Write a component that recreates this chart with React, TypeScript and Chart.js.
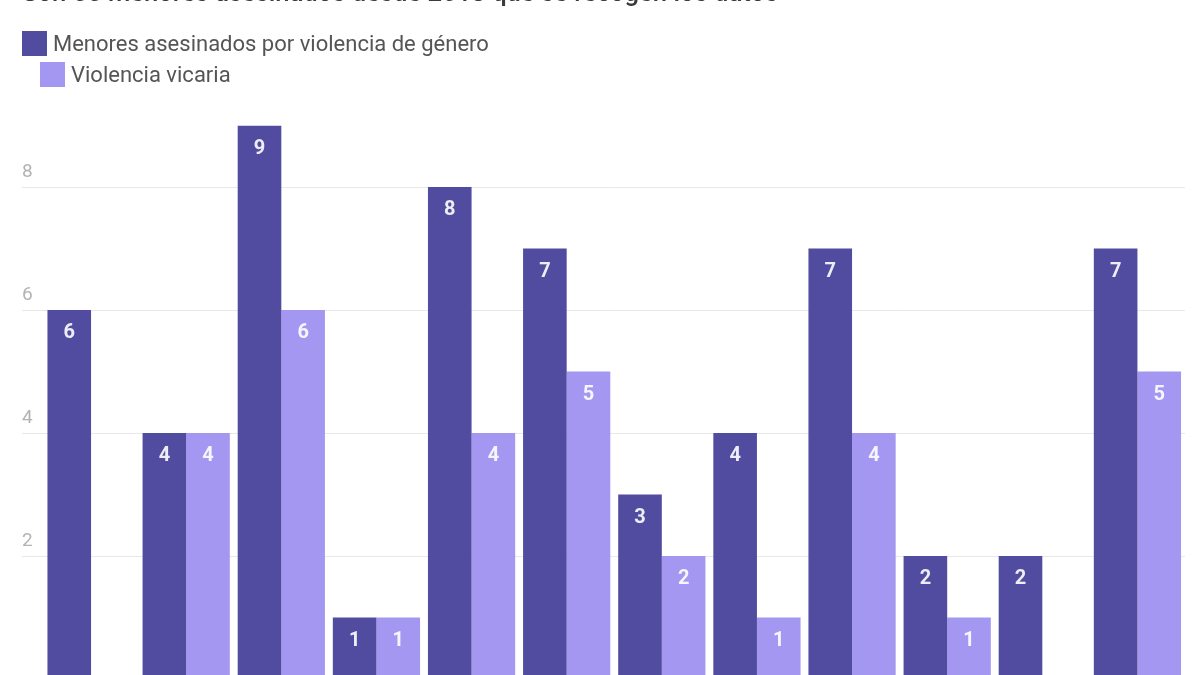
import React, { useEffect, useRef } from "react";
import { Chart, registerables } from "chart.js";

Chart.register(...registerables);

const TITLE = "Son 55 menores asesinados desde 2013 que se recogen los datos";
const CATEGORIES = ["2013", "2014", "2015", "2016", "2017", "2018", "2019", "2020", "2021", "2022", "2023", "2024"];
const SERIES_NAMES = ["Menores asesinados por violencia de género", "Violencia vicaria"];
const SERIES_COLORS = ["#514ca0", "#a397f1"];
const GENERO = [6, 4, 9, 1, 8, 7, 3, 4, 7, 2, 2, 7];
const VICARIA = [0, 4, 6, 1, 4, 5, 2, 1, 4, 1, 0, 5];
const Y_TICKS = [0, 2, 4, 6, 8];

const FONT = "Roboto, 'Noto Sans', sans-serif";

const valueLabels = {
  id: "valueLabels",
  afterDatasetsDraw(chart: any) {
    const ctx = chart.ctx;
    ctx.save();
    ctx.font = `bold 20px ${FONT}`;
    ctx.fillStyle = "rgba(255,255,255,0.9)";
    ctx.textAlign = "center";
    ctx.textBaseline = "middle";
    chart.data.datasets.forEach((ds: any, di: number) => {
      const meta = chart.getDatasetMeta(di);
      meta.data.forEach((bar: any, i: number) => {
        const v = ds.data[i];
        if (!v) return;
        ctx.fillText(String(v), bar.x, bar.y + 23);
      });
    });
    ctx.restore();
  },
};

export default function App() {
  const ref = useRef<HTMLCanvasElement>(null);

  useEffect(() => {
    if (!ref.current) return;
    const chart = new Chart(ref.current, {
      type: "bar",
      data: {
        labels: CATEGORIES,
        datasets: [
          { label: SERIES_NAMES[0], data: GENERO, backgroundColor: SERIES_COLORS[0] },
          { label: SERIES_NAMES[1], data: VICARIA, backgroundColor: SERIES_COLORS[1] },
        ],
      },
      options: {
        responsive: false,
        animation: false,
        devicePixelRatio: 1,
        layout: { padding: { left: 22, right: 15, top: 125.5, bottom: 0 } },
        datasets: {
          bar: { categoryPercentage: 0.917, barPercentage: 1, borderWidth: 0 },
        },
        plugins: {
          legend: { display: false },
          tooltip: { enabled: false },
          title: { display: false },
        },
        scales: {
          x: {
            grid: { display: false },
            border: { display: false },
            ticks: { color: "#999", font: { family: FONT, size: 16 } },
            afterFit: (s: any) => {
              s.height = 40;
            },
          },
          y: {
            min: 0,
            max: 9,
            afterBuildTicks: (s: any) => {
              s.ticks = Y_TICKS.map((v) => ({ value: v }));
            },
            ticks: {
              includeBounds: false,
              crossAlign: "far",
              padding: 0,
              labelOffset: -15,
              color: "#b3b3b3",
              font: { family: FONT, size: 19 },
              callback: (v: any) => (v === 0 ? "" : String(v)),
            },
            grid: {
              color: "#e8e8e8",
              lineWidth: 1,
              drawTicks: true,
              tickLength: 21.5,
            },
            border: { display: false },
            afterFit: (s: any) => {
              s.width = 21.5;
            },
          },
        },
      },
      plugins: [valueLabels],
    });
    return () => chart.destroy();
  }, []);

  return (
    <div style={{ position: "absolute", left: 0, top: 0, width: 1200, height: 719, background: "#fff", fontFamily: FONT, overflow: "hidden" }}>
      <canvas ref={ref} width={1200} height={719} style={{ position: "absolute", left: 0, top: 0, width: 1200, height: 719 }} />
      <div
        style={{
          position: "absolute",
          left: 22,
          top: -21,
          fontSize: 25.6,
          lineHeight: "26px",
          fontWeight: 500,
          color: "#3a3a3a",
          whiteSpace: "nowrap",
        }}
      >
        {TITLE}
      </div>
      {SERIES_NAMES.map((name, i) => (
        <div key={name} style={{ position: "absolute", left: i === 0 ? 22 : 40, top: i === 0 ? 31 : 62, height: 25, display: "flex", alignItems: "center" }}>
          <span style={{ display: "inline-block", width: 25, height: 25, background: SERIES_COLORS[i] }} />
          <span style={{ marginLeft: 6, fontSize: 22, lineHeight: "25px", color: "#555", whiteSpace: "nowrap" }}>{name}</span>
        </div>
      ))}
    </div>
  );
}
